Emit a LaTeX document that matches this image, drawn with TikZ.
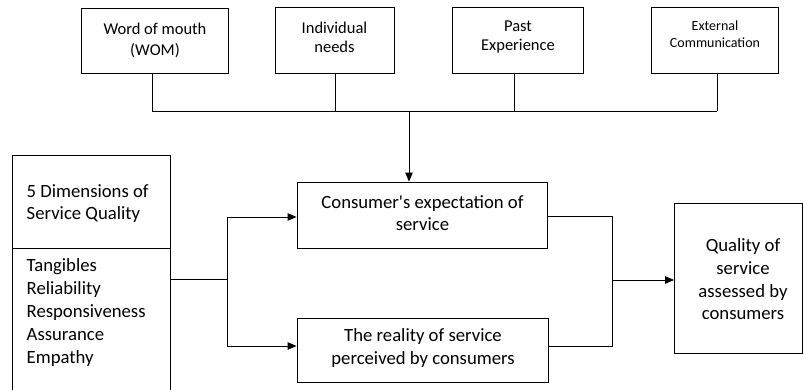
\documentclass[tikz,border=0pt]{standalone}
\usepackage{fontspec}
\setmainfont{Carlito}[Ligatures=TeXOff]
\usetikzlibrary{arrows.meta}
\tikzset{
  box/.style={draw=black, line width=0.9pt, rectangle, inner sep=0pt},
  txt/.style={inner sep=0pt, align=center, text=black},
  ltxt/.style={inner sep=0pt, align=left, anchor=west, text=black},
  conn/.style={draw=black, line width=0.9pt},
  arr/.style={conn, -{Triangle[length=9pt,width=7.5pt]}},
  topfont/.style={font=\fontsize{16.5}{19}\selectfont},
  midfont/.style={font=\fontsize{18.7}{22.5}\selectfont}
}
\begin{document}
\begin{tikzpicture}[x=1pt,y=-1pt]
\useasboundingbox (0,0) rectangle (804,389);
\clip (0,0) rectangle (804,389);
% top boxes
\node[box, minimum width=147pt, minimum height=65pt] (wom) at (154.5,40.5) {};
\node[box, minimum width=119pt, minimum height=66pt] (ind) at (334.5,40) {};
\node[box, minimum width=131pt, minimum height=66pt] (past) at (517.5,40) {};
\node[box, minimum width=127pt, minimum height=66pt] (ext) at (714.5,40) {};
\node[txt, font=\fontsize{16.5}{21}\selectfont] (womt) at (155,40) {Word of mouth\\(WOM)};
\node[txt, topfont] (indt) at (334.5,37) {Individual\\needs};
\node[txt, topfont] (pastt) at (518,37.5) {Past\\Experience};
\node[txt, font=\fontsize{14}{17.5}\selectfont] (extt) at (715,34) {External\\Communication};
% middle boxes
\node[box, minimum width=250pt, minimum height=66pt] (exp) at (422,215) {};
\node[box, minimum width=251pt, minimum height=64pt] (real) at (422.5,350) {};
\node[txt, midfont] (expt) at (422.5,213) {Consumer's expectation of\\service};
\node[txt, midfont] (realt) at (423,348) {The reality of service\\perceived by consumers};
% quality box
\node[box, minimum width=128pt, minimum height=150pt] (qual) at (738.5,278) {};
\node[txt, font=\fontsize{18.7}{22.7}\selectfont] (qualt) at (743,279.5) {Quality of\\service\\assessed by\\consumers};
% left box
\node[box, minimum width=157.3pt, minimum height=237pt] (dims) at (91.3,273.5) {};
\coordinate (divl) at (12.7,248);
\coordinate (divr) at (170,248);
\draw[conn] (divl) -- (divr);
\node[ltxt, font=\fontsize{18.7}{22.5}\selectfont] (dimt) at (26.5,203.4) {5 Dimensions of\\Service Quality};
\node[ltxt, font=\fontsize{18.7}{23}\selectfont] (diml) at (26.5,313) {Tangibles\\Reliability\\Responsiveness\\Assurance\\Empathy};
% bus
\coordinate (b1) at (152,111);
\coordinate (b2) at (335,111);
\coordinate (b3) at (514,111);
\coordinate (b4) at (717,111);
\coordinate (bm) at (409,111);
\draw[conn] (wom.south -| b1) -- (b1);
\draw[conn] (ind.south -| b2) -- (b2);
\draw[conn] (past.south -| b3) -- (b3);
\draw[conn] (ext.south -| b4) -- (b4);
\draw[conn] (b1) -- (b4);
\draw[arr] (bm) -- (bm |- exp.north);
% left fork
\coordinate (lj) at (227,279);
\coordinate (lt) at (227,217);
\coordinate (lb) at (227,346);
\draw[conn] (dims.east |- lj) -- (lj);
\draw[conn] (lt) -- (lb);
\draw[arr] (lt) -- (lt -| exp.west);
\draw[arr] (lb) -- (lb -| real.west);
% right join
\coordinate (rt) at (612,216);
\coordinate (rb) at (612,346);
\coordinate (rj) at (612,280);
\draw[conn] (exp.east |- rt) -- (rt) -- (rb) -- (real.east |- rb);
\draw[arr] (rj) -- (rj -| qual.west);
\end{tikzpicture}
\end{document}
